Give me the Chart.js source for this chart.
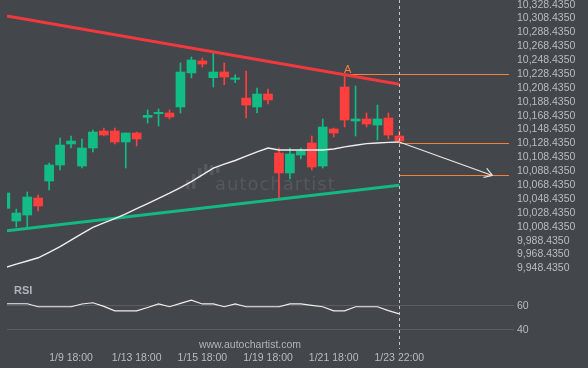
<!DOCTYPE html>
<html>
<head>
<meta charset="utf-8">
<script src="https://cdn.jsdelivr.net/npm/chart.js@4"></script>
<style>
  html, body { margin: 0; padding: 0; background: #43464b; }
  #wrap { width: 588px; height: 368px; position: relative; }
</style>
</head>
<body>
<div id="wrap"><canvas id="chart" width="588" height="368"></canvas></div>
<script>
// Velas (índice 0..36)
const openP  = [10035.0, 10016.7, 10025.3, 10049.8, 10074.3, 10097.4, 10127.7, 10095.9, 10121.9, 10146.4,
                10146.4, 10130.5, 10143.5, 10166.1, 10171.3, 10172.3, 10181.0, 10230.0, 10247.3, 10223.2,
                10231.4, 10220.9, 10193.9, 10181.0, 10199.7, 10114.7, 10085.9, 10111.8, 10129.1, 10095.9,
                10149.3, 10209.8, 10160.8, 10163.7, 10155.0, 10165.1, 10139.2];
const highP  = [10058.0, 10034.0, 10058.5, 10054.2, 10100.3, 10136.3, 10139.2, 10134.9, 10147.8, 10150.7,
                10150.7, 10143.5, 10144.9, 10176.7, 10178.1, 10176.7, 10244.4, 10253.0, 10251.6, 10258.8,
                10244.4, 10227.5, 10232.8, 10208.4, 10206.9, 10121.9, 10121.9, 10121.9, 10139.2, 10163.7,
                10150.7, 10227.1, 10211.2, 10172.3, 10183.8, 10172.3, 10146.4];
const lowP   = [10034.0, 10008.1, 10006.6, 10031.1, 10061.4, 10090.2, 10121.9, 10093.1, 10116.1, 10139.2,
                10127.7, 10093.1, 10124.8, 10157.9, 10153.6, 10163.7, 10172.3, 10222.8, 10238.6, 10209.8,
                10213.1, 10216.0, 10165.1, 10172.3, 10185.3, 10049.8, 10077.2, 10106.0, 10090.2, 10093.1,
                10137.8, 10152.2, 10139.2, 10152.2, 10133.4, 10134.9, 10130.5];
const closeP = [10057.1, 10028.2, 10051.3, 10038.3, 10097.4, 10126.2, 10132.0, 10121.9, 10144.9, 10140.6,
                10130.5, 10143.5, 10134.9, 10169.0, 10173.3, 10166.6, 10231.4, 10248.7, 10242.9, 10231.4,
                10224.2, 10222.8, 10183.8, 10199.7, 10191.1, 10085.9, 10113.3, 10117.6, 10094.5, 10152.2,
                10143.5, 10162.2, 10163.7, 10156.5, 10163.7, 10140.6, 10132.0];

// Media móvil
const maValues = [9949.7, 9954.6, 9959.1, 9963.7, 9971.5, 9979.7, 9989.2, 9998.6, 10007.6, 10013.9,
                  10020.2, 10027.1, 10034.6, 10041.9, 10049.4, 10056.8, 10064.8, 10073.5, 10083.3, 10092.8,
                  10098.7, 10103.9, 10110.1, 10116.3, 10121.9, 10119.0, 10119.0, 10119.0, 10119.0, 10119.0,
                  10120.4, 10123.6, 10125.8, 10128.2, 10129.1, 10130.0, 10130.5];

// RSI
const rsiValues = [61.7, 61.7, 61.7, 59.2, 59.2, 59.2, 59.2, 61.5, 62.5, 59.5,
                   55.8, 55.8, 55.8, 58.6, 61.5, 59.2, 62.0, 64.7, 61.5, 61.5,
                   59.2, 61.5, 59.2, 59.2, 59.2, 59.2, 61.5, 61.5, 60.4, 59.2,
                   55.8, 55.8, 59.2, 59.2, 59.2, 56.0, 53.3];

// Ejes
const xTickIndex  = [6, 12, 18, 24, 30, 36];
const xTickLabels = ['1/9 18:00', '1/13 18:00', '1/15 18:00', '1/19 18:00', '1/21 18:00', '1/23 22:00'];
const priceTicks  = [10328.435, 10308.435, 10288.435, 10268.435, 10248.435, 10228.435, 10208.435,
                     10188.435, 10168.435, 10148.435, 10128.435, 10108.435, 10088.435, 10068.435,
                     10048.435, 10028.435, 10008.435, 9988.435, 9968.435, 9948.435];
const rsiTicks    = [60, 40];

// Patrón y niveles
const resistance = [[0.15, 10312.0], [36, 10213.7]];
const support    = [[0.15, 10002.6], [36, 10068.1]];
const levelA      = [[31, 10227.8], [46.02, 10227.8]];
const levelLast   = [[36, 10128.4], [46.02, 10128.4]];
const levelTarget = [[36, 10082.3], [46.02, 10082.3]];
const projection  = [[36, 10130.5], [44.5, 10082.3]];
const lastIndex = 36;

const green = '#12bd85';
const red = '#ff3e3e';
const orange = '#f2813e';
const labelColor = '#b8bcc1';
const candleColors = openP.map((o, i) => closeP[i] >= o ? green : red);

const pts = arr => arr.map(p => ({ x: p[0], y: p[1] }));
const fmtPrice = v => v.toLocaleString('en-US', { minimumFractionDigits: 4, maximumFractionDigits: 4 });
const noPad = s => { s.paddingTop = 0; s.paddingBottom = 0; s.paddingLeft = 0; s.paddingRight = 0; };

const watermark = {
  id: 'watermark',
  beforeDatasetsDraw(chart) {
    const ctx = chart.ctx;
    ctx.save();
    ctx.fillStyle = '#55585d';
    const tops = [180, 174, 168, 164, 165, 166];
    const bots = [189, 189, 178, 173, 175, 173];
    tops.forEach((t, k) => ctx.fillRect(186 + k * 6, t, 3.5, bots[k] - t));
    ctx.font = '18px "DejaVu Sans"';
    ctx.letterSpacing = '1px';
    ctx.textBaseline = 'alphabetic';
    ctx.fillText('autochartist', 215, 189.5);
    ctx.restore();
  }
};

const overlay = {
  id: 'overlay',
  afterDatasetsDraw(chart) {
    const { ctx, chartArea, scales } = chart;
    const x = scales.x, y = scales.y;
    ctx.save();
    // línea vertical discontinua en la última vela
    const lx = Math.round(x.getPixelForValue(lastIndex)) + 0.5;
    ctx.strokeStyle = '#c8c8c8';
    ctx.lineWidth = 1;
    ctx.setLineDash([3, 3]);
    ctx.beginPath();
    ctx.moveTo(lx, 0);
    ctx.lineTo(lx, chartArea.bottom);
    ctx.stroke();
    ctx.setLineDash([]);

    // punta de flecha de la proyección
    const tip = projection[1];
    const tx = x.getPixelForValue(tip[0]), ty = y.getPixelForValue(tip[1]);
    const sx = x.getPixelForValue(projection[0][0]), sy = y.getPixelForValue(projection[0][1]);
    const ang = Math.atan2(ty - sy, tx - sx);
    ctx.strokeStyle = '#e8e8e8';
    ctx.lineWidth = 1.2;
    ctx.beginPath();
    [-0.55, 0.55].forEach(d => {
      ctx.moveTo(tx, ty);
      ctx.lineTo(tx - 9 * Math.cos(ang + d), ty - 9 * Math.sin(ang + d));
    });
    ctx.stroke();

    // etiqueta A
    ctx.fillStyle = orange;
    ctx.font = '11px "Liberation Sans"';
    ctx.textAlign = 'center';
    ctx.textBaseline = 'middle';
    ctx.fillText('A', x.getPixelForValue(levelA[0][0]) + 3, y.getPixelForValue(levelA[0][1]) - 5);

    // RSI y web
    ctx.fillStyle = '#b0b4ba';
    ctx.font = 'bold 11px "Liberation Sans"';
    ctx.textAlign = 'left';
    ctx.fillText('RSI', 14, 291);
    ctx.font = '10.5px "Liberation Sans"';
    ctx.textAlign = 'center';
    ctx.fillText('www.autochartist.com', 250, 345);
    ctx.restore();
  }
};

const lineDs = (label, data, color, width, order, axis) => ({
  type: 'line', label, data, borderColor: color, backgroundColor: color, borderWidth: width,
  pointRadius: 0, tension: 0, fill: false, order, yAxisID: axis || 'y'
});

new Chart(document.getElementById('chart'), {
  type: 'bar',
  data: {
    datasets: [
      lineDs('MA', maValues.map((v, i) => ({ x: i, y: v })), '#eeeeee', 1.4, 1),
      lineDs('Resistance', pts(resistance), '#f0393d', 3, 2),
      lineDs('Support', pts(support), '#14b880', 3, 2),
      lineDs('Level A', pts(levelA), orange, 1.2, 3),
      lineDs('Level last', pts(levelLast), orange, 1.2, 3),
      lineDs('Level target', pts(levelTarget), orange, 1.2, 3),
      lineDs('Projection', pts(projection), '#e8e8e8', 1.2, 1),
      lineDs('RSI', rsiValues.map((v, i) => ({ x: i, y: v })), '#eeeeee', 1.2, 1, 'rsi'),
      {
        type: 'bar', label: 'Wicks', yAxisID: 'y', grouped: false, order: 20,
        data: highP.map((h, i) => ({ x: i, y: [lowP[i], h] })),
        backgroundColor: candleColors, barThickness: 1
      },
      {
        type: 'bar', label: 'Bodies', yAxisID: 'y', grouped: false, order: 19,
        data: openP.map((o, i) => ({ x: i, y: [o, closeP[i]] })),
        backgroundColor: candleColors, barThickness: 9, minBarLength: 1
      }
    ]
  },
  options: {
    responsive: false,
    animation: false,
    devicePixelRatio: 1,
    layout: { padding: { left: 7, top: 0, right: 0, bottom: 0 } },
    plugins: { legend: { display: false }, tooltip: { enabled: false } },
    scales: {
      x: {
        type: 'linear', min: 0.15, max: 46.02, offset: false,
        grid: { display: false, drawTicks: false }, border: { display: false },
        afterBuildTicks: s => { s.ticks = xTickIndex.map(v => ({ value: v })); },
        ticks: {
          color: labelColor, font: { family: 'Liberation Sans', size: 10.5 },
          padding: 3, maxRotation: 0, autoSkip: false,
          callback: v => { const k = xTickIndex.indexOf(v); return k >= 0 ? xTickLabels[k] : ''; }
        },
        afterFit: s => { s.height = 19; noPad(s); }
      },
      y: {
        type: 'linear', position: 'right', stack: 'panes', stackWeight: 282,
        min: 9928.8, max: 10335.16,
        grid: { display: false, drawTicks: false }, border: { display: false },
        afterBuildTicks: s => { s.ticks = priceTicks.map(v => ({ value: v })); },
        ticks: {
          color: labelColor, font: { family: 'Liberation Sans', size: 10.5 }, padding: 8,
          autoSkip: false, callback: v => fmtPrice(v)
        },
        afterFit: s => { s.width = 79; noPad(s); }
      },
      rsi: {
        type: 'linear', position: 'right', stack: 'panes', stackWeight: 67,
        min: 24.0, max: 79.8,
        grid: { color: '#5a5d62', tickLength: 5, drawTicks: true }, border: { display: false },
        afterBuildTicks: s => { s.ticks = rsiTicks.map(v => ({ value: v })); },
        ticks: { color: labelColor, font: { family: 'Liberation Sans', size: 10.5 }, padding: 3, autoSkip: false },
        afterFit: s => { s.width = 79; noPad(s); }
      }
    }
  },
  plugins: [watermark, overlay]
});
</script>
</body>
</html>
